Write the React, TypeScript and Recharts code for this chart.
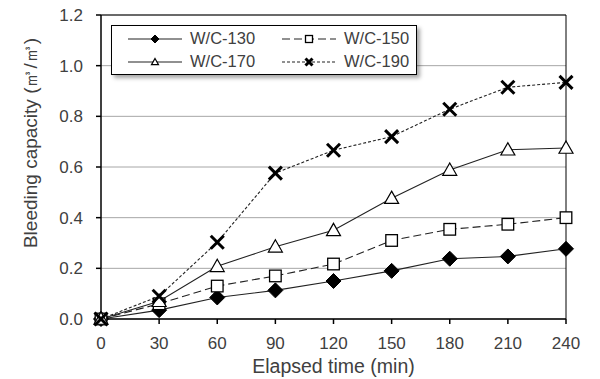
import React from 'react';
import {
  LineChart,
  Line,
  XAxis,
  YAxis,
  CartesianGrid,
  Legend,
  ReferenceLine,
  Label,
} from 'recharts';

const times = [0, 30, 60, 90, 120, 150, 180, 210, 240];
const wc130 = [0, 0.035, 0.085, 0.113, 0.15, 0.19, 0.238, 0.247, 0.277];
const wc150 = [0, 0.06, 0.13, 0.17, 0.217, 0.31, 0.354, 0.374, 0.4];
const wc170 = [0, 0.07, 0.208, 0.285, 0.35, 0.477, 0.588, 0.668, 0.675];
const wc190 = [0, 0.09, 0.303, 0.576, 0.666, 0.72, 0.828, 0.915, 0.934];
const yTicks = [0, 0.2, 0.4, 0.6, 0.8, 1.0, 1.2];

const data = times.map((t, i) => ({
  t,
  wc130: wc130[i],
  wc150: wc150[i],
  wc170: wc170[i],
  wc190: wc190[i],
}));

const FONT = '"Liberation Sans", Arial, sans-serif';
const TEXT = '#404040';
const LINE = '#222';

const Diamond = ({ cx, cy, s = 7.5 }: any) => (
  <polygon
    points={`${cx},${cy - s} ${cx + s},${cy} ${cx},${cy + s} ${cx - s},${cy}`}
    fill="#000"
    stroke="#000"
  />
);
const Square = ({ cx, cy, s = 5.8 }: any) => (
  <rect x={cx - s} y={cy - s} width={s * 2} height={s * 2} fill="#fff" stroke="#000" strokeWidth={1.3} />
);
const Triangle = ({ cx, cy, s = 7 }: any) => (
  <polygon
    points={`${cx},${cy - s} ${cx + s},${cy + s * 0.75} ${cx - s},${cy + s * 0.75}`}
    fill="#fff"
    stroke="#000"
    strokeWidth={1.2}
  />
);
const Cross = ({ cx, cy, s = 6.5 }: any) => (
  <g stroke="#000" strokeWidth={3}>
    <line x1={cx - s} y1={cy - s} x2={cx + s} y2={cy + s} />
    <line x1={cx - s} y1={cy + s} x2={cx + s} y2={cy - s} />
  </g>
);

const series = [
  { key: 'wc130', name: 'W/C-130', dash: undefined, Mark: Diamond, small: 4 },
  { key: 'wc150', name: 'W/C-150', dash: '8 4', Mark: Square, small: 3.5 },
  { key: 'wc170', name: 'W/C-170', dash: undefined, Mark: Triangle, small: 3.5 },
  { key: 'wc190', name: 'W/C-190', dash: '3 2', Mark: Cross, small: 3.5 },
];

const LegendBox = () => (
  <div
    style={{
      border: '1.5px solid #000',
      background: '#fff',
      boxShadow: '3px 3px 4px rgba(0,0,0,0.35)',
      display: 'grid',
      gridTemplateColumns: '154px 1fr',
      padding: '1px 0 1px 16px',
      width: 288,
      fontFamily: FONT,
      fontSize: 16.5,
      color: TEXT,
      boxSizing: 'content-box',
    }}
  >
    {series.map((s) => (
      <div key={s.key} style={{ display: 'flex', alignItems: 'center', height: 23 }}>
        <svg width={54} height={16} style={{ marginRight: 8 }}>
          <line x1={0} y1={8} x2={54} y2={8} stroke={LINE} strokeWidth={1.2} strokeDasharray={s.dash} />
          <s.Mark cx={27} cy={8} s={s.small} />
        </svg>
        <span>{s.name}</span>
      </div>
    ))}
  </div>
);

export default function App() {
  return (
    <div style={{ position: 'fixed', left: 0, top: 0, width: 600, height: 379, background: '#fff' }}>
      <LineChart width={600} height={379} data={data} margin={{ top: 15, right: 34, bottom: 0, left: 0 }}>
        <CartesianGrid horizontal vertical={false} stroke="#a6a6a6" />
        <XAxis
          dataKey="t"
          type="number"
          domain={[0, 240]}
          ticks={times}
          height={60}
          stroke="#000"
          strokeWidth={1.5}
          tickSize={5}
          tickMargin={13}
          tick={{ fill: TEXT, fontSize: 17, fontFamily: FONT }}
        >
          <Label
            value="Elapsed time (min)"
            position="insideBottom"
            offset={6}
            style={{ fill: TEXT, fontSize: 19.5, fontFamily: FONT }}
          />
        </XAxis>
        <YAxis
          type="number"
          domain={[0, 1.2]}
          ticks={yTicks}
          width={101}
          stroke="#000"
          strokeWidth={1.5}
          tickSize={5}
          tickMargin={13}
          tickFormatter={(v: number) => v.toFixed(1)}
          tick={{ fill: TEXT, fontSize: 17, fontFamily: FONT }}
        >
          <Label
            value="Bleeding capacity (㎥/㎥)"
            position="center"
            angle={-90}
            dx={-20}
            dy={-24}
            style={{ fill: TEXT, fontSize: 19, fontFamily: FONT }}
          />
        </YAxis>
        <ReferenceLine y={1.2} stroke="#000" />
        <ReferenceLine x={240} stroke="#000" />
        <Legend
          layout="horizontal"
          verticalAlign="middle"
          align="center"
          wrapperStyle={{ left: 111, top: 25, width: 'auto' }}
          content={() => <LegendBox />}
        />
        {series.map((s) => (
          <Line
            key={s.key}
            dataKey={s.key}
            name={s.name}
            type="linear"
            stroke={LINE}
            strokeWidth={1.1}
            strokeDasharray={s.dash}
            dot={(p: any) => <s.Mark key={`${s.key}-${p.index}`} cx={p.cx} cy={p.cy} />}
            activeDot={false}
            isAnimationActive={false}
          />
        ))}
      </LineChart>
    </div>
  );
}
